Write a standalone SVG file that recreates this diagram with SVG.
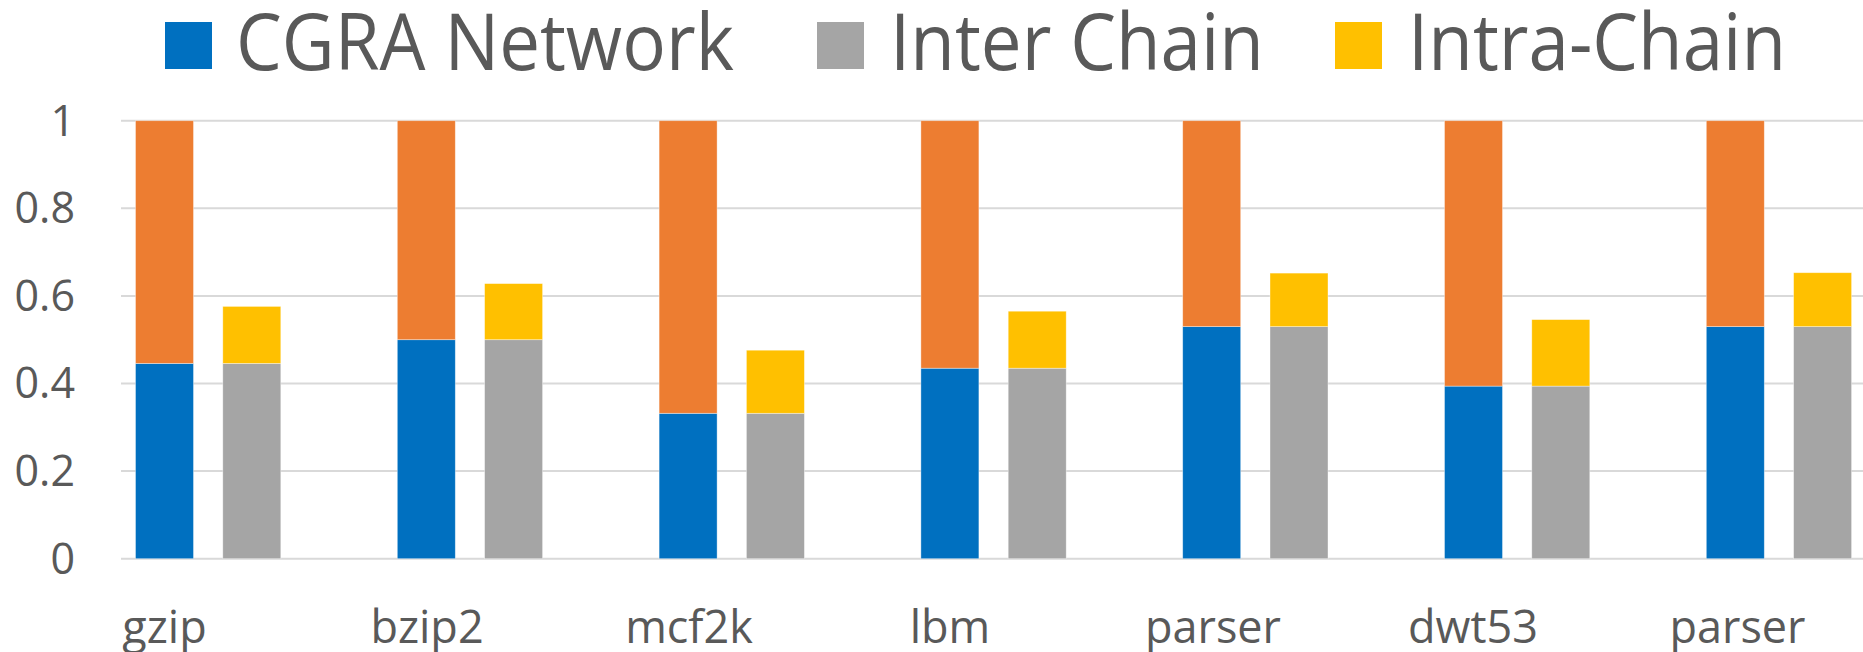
<svg xmlns="http://www.w3.org/2000/svg" width="1863" height="652" viewBox="0 0 1863 652">
<style>
text{font-family:"Open Sans","Liberation Sans",sans-serif;fill:#595959}
.leg{font-size:72px}
.tick{font-size:43px;text-anchor:end}
.cat{font-size:45px;text-anchor:middle}
.grid{stroke:#D9D9D9;stroke-width:2}
.bar{stroke:#fff;stroke-width:0.75;stroke-opacity:0.5}
.cgra{fill:#0070C0}.other{fill:#ED7D31}.inter{fill:#A5A5A5}.intra{fill:#FFC000}
</style>
<rect width="1863" height="652" fill="#fff"/>
<g id="legend">
<rect x="165" y="22" width="47" height="47" class="cgra"/>
<text class="leg" transform="translate(236 70) scale(1.01 1.08)">CGRA Network</text>
<rect x="817" y="22" width="47" height="47" class="inter"/>
<text class="leg" transform="translate(890 70) scale(1.01 1.08)">Inter Chain</text>
<rect x="1335" y="22" width="47" height="47" class="intra"/>
<text class="leg" transform="translate(1408 70) scale(1.01 1.08)">Intra-Chain</text>
</g>
<g id="grid">
<line class="grid" x1="121" y1="120.7" x2="1863" y2="120.7"/>
<line class="grid" x1="121" y1="208.3" x2="1863" y2="208.3"/>
<line class="grid" x1="121" y1="295.9" x2="1863" y2="295.9"/>
<line class="grid" x1="121" y1="383.5" x2="1863" y2="383.5"/>
<line class="grid" x1="121" y1="471.1" x2="1863" y2="471.1"/>
<line class="grid" x1="121" y1="558.7" x2="1863" y2="558.7"/>
</g>
<g id="yaxis">
<text class="tick" x="75" y="135.5">1</text>
<text class="tick" x="75" y="223">0.8</text>
<text class="tick" x="75" y="310.5">0.6</text>
<text class="tick" x="75" y="398">0.4</text>
<text class="tick" x="75" y="485.5">0.2</text>
<text class="tick" x="75" y="573.5">0</text>
</g>
<g id="bars">
<g id="gzip">
<rect class="bar cgra" x="135.5" y="363.4" width="58" height="195.3"/>
<rect class="bar other" x="135.5" y="120.7" width="58" height="242.7"/>
<rect class="bar inter" x="222.8" y="363.4" width="58" height="195.3"/>
<rect class="bar intra" x="222.8" y="306.4" width="58" height="57"/>
</g>
<g id="bzip2">
<rect class="bar cgra" x="397.3" y="339.7" width="58" height="219"/>
<rect class="bar other" x="397.3" y="120.7" width="58" height="219"/>
<rect class="bar inter" x="484.6" y="339.7" width="58" height="219"/>
<rect class="bar intra" x="484.6" y="283.6" width="58" height="56.1"/>
</g>
<g id="mcf2k">
<rect class="bar cgra" x="659.1" y="413.3" width="58" height="145.4"/>
<rect class="bar other" x="659.1" y="120.7" width="58" height="292.6"/>
<rect class="bar inter" x="746.4" y="413.3" width="58" height="145.4"/>
<rect class="bar intra" x="746.4" y="350.2" width="58" height="63.1"/>
</g>
<g id="lbm">
<rect class="bar cgra" x="920.9" y="368.2" width="58" height="190.5"/>
<rect class="bar other" x="920.9" y="120.7" width="58" height="247.5"/>
<rect class="bar inter" x="1008.2" y="368.2" width="58" height="190.5"/>
<rect class="bar intra" x="1008.2" y="311.2" width="58" height="57"/>
</g>
<g id="parser1">
<rect class="bar cgra" x="1182.7" y="326.6" width="58" height="232.1"/>
<rect class="bar other" x="1182.7" y="120.7" width="58" height="205.9"/>
<rect class="bar inter" x="1270" y="326.6" width="58" height="232.1"/>
<rect class="bar intra" x="1270" y="273.1" width="58" height="53.5"/>
</g>
<g id="dwt53">
<rect class="bar cgra" x="1444.5" y="386.1" width="58" height="172.6"/>
<rect class="bar other" x="1444.5" y="120.7" width="58" height="265.4"/>
<rect class="bar inter" x="1531.8" y="386.1" width="58" height="172.6"/>
<rect class="bar intra" x="1531.8" y="319.6" width="58" height="66.5"/>
</g>
<g id="parser2">
<rect class="bar cgra" x="1706.3" y="326.6" width="58" height="232.1"/>
<rect class="bar other" x="1706.3" y="120.7" width="58" height="205.9"/>
<rect class="bar inter" x="1793.6" y="326.6" width="58" height="232.1"/>
<rect class="bar intra" x="1793.6" y="272.7" width="58" height="53.9"/>
</g>
</g>
<g id="xaxis">
<text class="cat" x="164.5" y="643">gzip</text>
<text class="cat" x="427" y="643">bzip2</text>
<text class="cat" x="689" y="643">mcf2k</text>
<text class="cat" x="950" y="643">lbm</text>
<text class="cat" x="1213" y="643">parser</text>
<text class="cat" x="1473" y="643">dwt53</text>
<text class="cat" x="1737.5" y="643">parser</text>
</g>
</svg>
